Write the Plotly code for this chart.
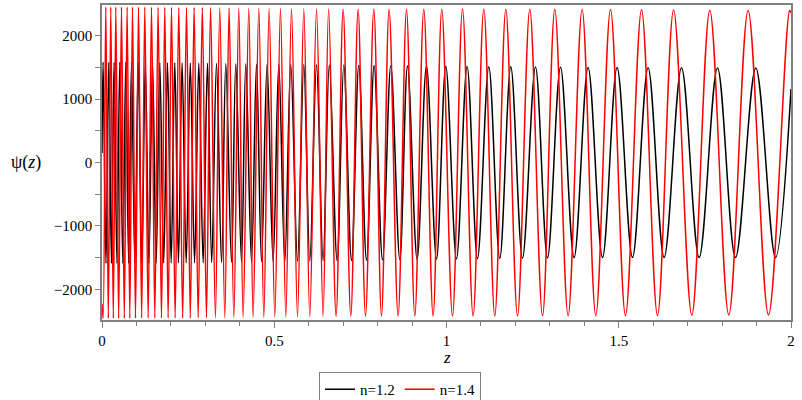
import plotly.graph_objects as go

# ---- data: positions (z) and values of the extrema ----
# n = 1.2 (black)
z_start_12, psi_start_12 = 0.0, 150
peak_z_12 = [0.0032, 0.0197, 0.0351, 0.0517, 0.0691, 0.0856, 0.1054, 0.1257, 0.1466, 0.1678,
             0.1901, 0.2113, 0.2325, 0.2563, 0.2810, 0.3062, 0.3324, 0.3594, 0.3884, 0.4174,
             0.4485, 0.4792, 0.5132, 0.5480, 0.5858, 0.6227, 0.6598, 0.7019, 0.7454, 0.7899,
             0.8383, 0.8868, 0.9419, 0.9980, 1.0598, 1.1228, 1.1867, 1.2583, 1.3309, 1.4110,
             1.4952, 1.5852, 1.6822, 1.7866, 1.8978]
peak_v_12 = [1585, 1585, 1584, 1583, 1582, 1581, 1580, 1579, 1578, 1577,
             1576, 1575, 1574, 1572, 1570, 1568, 1566, 1563, 1560, 1558,
             1555, 1553, 1550, 1548, 1546, 1543, 1541, 1538, 1535, 1532,
             1529, 1526, 1523, 1520, 1517, 1514, 1511, 1508, 1505, 1502,
             1499, 1497, 1495, 1493, 1491]
trough_z_12 = [0.0115, 0.0274, 0.0434, 0.0604, 0.0774, 0.0955, 0.1155, 0.1361, 0.1572, 0.1790,
               0.2007, 0.2219, 0.2444, 0.2687, 0.2936, 0.3184, 0.3469, 0.3759, 0.4049, 0.4340,
               0.4630, 0.4967, 0.5306, 0.5675, 0.6032, 0.6418, 0.6824, 0.7242, 0.7678, 0.8142,
               0.8645, 0.9147, 0.9710, 1.0290, 1.0900, 1.1547, 1.2206, 1.2932, 1.3704, 1.4529,
               1.5399, 1.6317, 1.7333, 1.8389, 1.9550]
trough_v_12 = [-1592, -1592, -1591, -1590, -1590, -1589, -1588, -1587, -1586, -1585,
               -1584, -1583, -1582, -1581, -1580, -1579, -1578, -1575, -1572, -1569,
               -1566, -1563, -1560, -1557, -1554, -1551, -1548, -1545, -1541, -1537,
               -1533, -1529, -1525, -1521, -1517, -1513, -1509, -1505, -1502, -1500,
               -1499, -1498, -1500, -1500, -1500]
z_end_12, psi_end_12 = 2.0, 1160

# n = 1.4 (red)
z_start_14, psi_start_14 = 0.0, -2230
trough_z_14 = [0.0032, 0.0183, 0.0328, 0.0483, 0.0647, 0.0807, 0.0972, 0.1151, 0.1340, 0.1533,
               0.1726, 0.1920, 0.2123, 0.2341, 0.2563, 0.2792, 0.3032, 0.3292, 0.3565, 0.3826,
               0.4096, 0.4386, 0.4697, 0.5016, 0.5335, 0.5675, 0.6032, 0.6418, 0.6795, 0.7222,
               0.7649, 0.8113, 0.8595, 0.9080, 0.9611, 1.0174, 1.0772, 1.1402, 1.2061, 1.2787,
               1.3530, 1.4334, 1.5196, 1.6125, 1.7121, 1.8195, 1.9347]
trough_v_14 = [-2458, -2458, -2458, -2457, -2457, -2456, -2456, -2455, -2455, -2454,
               -2454, -2453, -2453, -2452, -2452, -2451, -2451, -2450, -2448, -2446,
               -2444, -2442, -2440, -2438, -2436, -2434, -2432, -2430, -2428, -2426,
               -2425, -2424, -2423, -2422, -2422, -2422, -2421, -2420, -2420, -2419,
               -2418, -2417, -2416, -2414, -2410, -2407, -2405]
peak_z_14 = [0.0110, 0.0255, 0.0401, 0.0566, 0.0729, 0.0885, 0.1060, 0.1242, 0.1437, 0.1628,
             0.1823, 0.2017, 0.2229, 0.2453, 0.2674, 0.2912, 0.3152, 0.3419, 0.3689, 0.3971,
             0.4261, 0.4552, 0.4851, 0.5181, 0.5501, 0.5858, 0.6227, 0.6578, 0.6999, 0.7434,
             0.7890, 0.8334, 0.8839, 0.9341, 0.9864, 1.0465, 1.1083, 1.1722, 1.2418, 1.3144,
             1.3936, 1.4761, 1.5661, 1.6592, 1.7643, 1.8755, 1.9960]
peak_v_14 = [2456, 2456, 2455, 2455, 2455, 2454, 2454, 2453, 2453, 2452,
             2451, 2450, 2449, 2448, 2447, 2446, 2445, 2443, 2441, 2439,
             2437, 2435, 2433, 2431, 2429, 2427, 2425, 2423, 2421, 2420,
             2419, 2418, 2418, 2420, 2421, 2422, 2422, 2421, 2420, 2418,
             2416, 2414, 2412, 2408, 2404, 2402, 2400]
z_end_14, psi_end_14 = 2.0, 2360

x_ticks = [0, 0.5, 1, 1.5, 2]
x_tick_labels = ["0", "0.5", "1", "1.5", "2"]
y_ticks = [-2000, -1000, 0, 1000, 2000]
y_tick_labels = ["\u22122000", "\u22121000", "0", "1000", "2000"]
series_names = ["n=1.2", "n=1.4"]
series_colors = ["#000000", "#ff0000"]


def alternate(first_z, first_v, second_z, second_v):
    zs, vs = [], []
    for i in range(max(len(first_z), len(second_z))):
        if i < len(first_z):
            zs.append(first_z[i]); vs.append(first_v[i])
        if i < len(second_z):
            zs.append(second_z[i]); vs.append(second_v[i])
    return zs, vs


z12, v12 = alternate(peak_z_12, peak_v_12, trough_z_12, trough_v_12)
z12 = [z_start_12] + z12 + [z_end_12]
v12 = [psi_start_12] + v12 + [psi_end_12]

z14, v14 = alternate(trough_z_14, trough_v_14, peak_z_14, peak_v_14)
z14 = [z_start_14] + z14 + [z_end_14]
v14 = [psi_start_14] + v14 + [psi_end_14]

FONT = "'Liberation Serif', 'Times New Roman', 'DejaVu Serif', serif"
AXIS_GRAY = "#808080"

fig = go.Figure()
for zs, vs, name, col in [(z12, v12, series_names[0], series_colors[0]),
                          (z14, v14, series_names[1], series_colors[1])]:
    fig.add_trace(go.Scatter(x=zs, y=vs, mode="lines", name=name,
                             line=dict(color=col, width=1.5, shape="spline", smoothing=1)))

fig.update_layout(
    width=802, height=400,
    margin=dict(l=102, r=11, t=5, b=80, autoexpand=False),
    paper_bgcolor="white", plot_bgcolor="white",
    font=dict(family=FONT, size=14, color="black"),
    showlegend=True,
    legend=dict(orientation="h", x=0.4325, xanchor="center", y=-0.165, yanchor="top",
                bordercolor=AXIS_GRAY, borderwidth=1, font=dict(family=FONT, size=15),
                itemwidth=30, tracegroupgap=0),
    xaxis=dict(range=[0, 2], tickvals=x_ticks, ticktext=x_tick_labels,
               automargin=False, ticklabeloverflow="allow",
               showgrid=False, zeroline=False, showline=True, mirror=True,
               linecolor=AXIS_GRAY, linewidth=1.5, ticks="outside", ticklen=6,
               tickcolor=AXIS_GRAY, tickwidth=1,
               tickfont=dict(family=FONT, size=15),
               minor=dict(dtick=0.1, ticks="outside", ticklen=4, tickcolor=AXIS_GRAY, showgrid=False)),
    yaxis=dict(range=[-2485, 2487], tickvals=y_ticks, ticktext=y_tick_labels,
               automargin=False, ticklabeloverflow="allow",
               showgrid=False, zeroline=False, showline=True, mirror=True,
               linecolor=AXIS_GRAY, linewidth=1.5, ticks="outside", ticklen=5,
               tickcolor=AXIS_GRAY, tickwidth=1,
               tickfont=dict(family=FONT, size=15),
               minor=dict(dtick=500, ticks="outside", ticklen=5, tickcolor=AXIS_GRAY, showgrid=False)),
    annotations=[
        dict(text="<i>z</i>", xref="paper", yref="paper", x=0.5, y=-0.1176,
             xanchor="center", yanchor="middle", showarrow=False,
             font=dict(family=FONT, size=17)),
        dict(text="\u03c8(<i>z</i>)", xref="paper", yref="paper", x=-0.11, y=0.499,
             xanchor="center", yanchor="middle", showarrow=False,
             font=dict(family=FONT, size=18)),
    ],
)

fig.write_html("out.html", config={"displayModeBar": False},
               post_script="document.body.style.margin='0px';")
